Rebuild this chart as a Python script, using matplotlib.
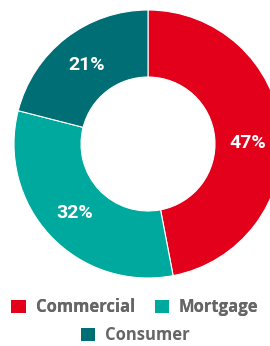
import matplotlib.pyplot as plt

# ========================
# DATA
# ========================
labels = ["Commercial", "Mortgage", "Consumer"]
shares = [47, 32, 21]
colors = ["#E2001A", "#00A99D", "#006E75"]

W, H = 270, 346

# ========================
# PLOT
# ========================
fig = plt.figure(figsize=(W / 100, H / 100), dpi=100)
ax = fig.add_axes([0, 0, 1, 1])

wedges, _, pcts = ax.pie(
    shares,
    colors=colors,
    startangle=90,
    counterclock=False,
    center=(148, H - 144),
    radius=134,
    autopct="%d%%",
    pctdistance=0.75,
    wedgeprops=dict(width=67, edgecolor="white", linewidth=0.8),
    textprops=dict(color="white", fontsize=14, fontweight="bold", family="Roboto"),
)
# the right-hand label sits a little lower in the original
x, y = pcts[0].get_position()
pcts[0].set_position((x, y - 8))

ax.set_xlim(0, W)
ax.set_ylim(0, H)
ax.set_aspect("equal")
ax.axis("off")

legend_font = dict(family="Open Sans", weight="bold", size=12)
common = dict(frameon=False, prop=legend_font, handlelength=0.85, handleheight=0.85,
              handletextpad=0.6, labelcolor="#666666", borderpad=0, borderaxespad=0)
leg1 = fig.legend(
    wedges[:2], labels[:2], loc="center", bbox_to_anchor=(0.5, 1 - 307 / H),
    ncol=2, columnspacing=1.2, **common,
)
leg2 = fig.legend(
    wedges[2:], labels[2:], loc="center", bbox_to_anchor=(0.5, 1 - 335 / H),
    **common,
)
for leg in (leg1, leg2):
    for h in leg.legend_handles:
        h.set_edgecolor("none")
fig.add_artist(leg1)

fig.savefig("out.png", dpi=100)
